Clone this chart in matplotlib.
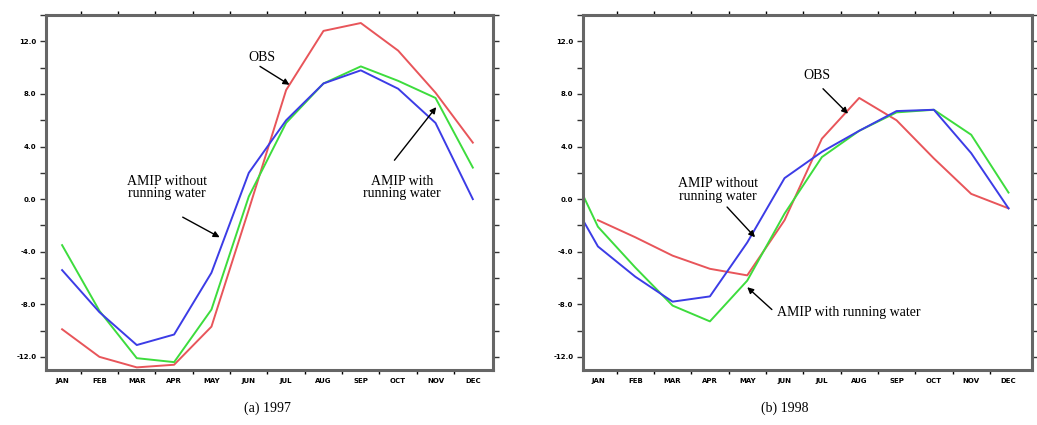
import matplotlib
matplotlib.use("Agg")
import matplotlib.pyplot as plt
from matplotlib.ticker import MultipleLocator

months = ["JAN", "FEB", "MAR", "APR", "MAY", "JUN", "JUL", "AUG", "SEP", "OCT", "NOV", "DEC"]

# 1997
obs_1997 = [-9.9, -12.0, -12.8, -12.6, -9.7, -0.8, 8.3, 12.8, 13.4, 11.3, 8.1, 4.3]
with_rw_1997 = [-3.5, -8.5, -12.1, -12.4, -8.4, 0.2, 5.8, 8.8, 10.1, 9.0, 7.7, 2.4]
without_rw_1997 = [-5.4, -8.6, -11.1, -10.3, -5.6, 2.0, 6.0, 8.8, 9.8, 8.4, 5.8, 0.0]

# 1998 (model runs carry over from the preceding December at the left edge)
obs_1998 = [-1.6, -2.9, -4.3, -5.3, -5.8, -1.6, 4.6, 7.7, 6.0, 3.1, 0.4, -0.7]
with_rw_1998 = [-2.1, -5.2, -8.1, -9.3, -6.2, -1.1, 3.2, 5.2, 6.6, 6.8, 4.9, 0.5]
without_rw_1998 = [-3.6, -5.9, -7.8, -7.4, -3.3, 1.6, 3.6, 5.2, 6.7, 6.8, 3.5, -0.7]
with_rw_1998_lead = 0.3
without_rw_1998_lead = -1.6

RED = "#e8555a"
GREEN = "#3ddc3d"
BLUE = "#3c3ce6"
SERIF = "Liberation Serif"

fig = plt.figure(figsize=(10.37, 4.25), dpi=100)
ax1 = fig.add_axes([0.0444, 0.1294, 0.431, 0.835])
ax2 = fig.add_axes([0.5622, 0.1294, 0.433, 0.835])

x = list(range(12))


def style_axes(ax, xlim):
    ax.set_xlim(*xlim)
    ax.set_ylim(-13.0, 14.0)
    ax.yaxis.set_minor_locator(MultipleLocator(2))
    ax.set_yticks([-12, -8, -4, 0, 4, 8, 12])
    ax.set_yticklabels(["-12.0", "-8.0", "-4.0", "0.0", "4.0", "8.0", "12.0"],
                       fontsize=5, fontweight="bold")
    # month boundaries carry the tick marks, month centres carry the names
    ax.set_xticks([i + 0.5 for i in range(11)])
    ax.set_xticklabels([])
    ax.set_xticks(x, minor=True)
    ax.set_xticklabels(months, minor=True, fontsize=5, fontweight="bold")
    ax.tick_params(axis="x", which="major", direction="out", length=3, width=1,
                   top=True, bottom=True, color="black")
    ax.tick_params(axis="x", which="minor", length=0, pad=6)
    ax.tick_params(axis="y", which="both", direction="out", length=4, width=1,
                   left=True, right=True, color="#333333", pad=3)
    for s in ax.spines.values():
        s.set_color("#666666")
        s.set_linewidth(2.2)


arrow = dict(arrowstyle="-|>", color="black", lw=1.0, mutation_scale=9, shrinkA=0, shrinkB=0)

# (a) 1997
ax1.plot(x, obs_1997, color=RED, lw=1.4)
ax1.plot(x, with_rw_1997, color=GREEN, lw=1.4)
ax1.plot(x, without_rw_1997, color=BLUE, lw=1.4)
style_axes(ax1, (-0.43, 11.54))

ax1.text(5.34, 10.8, "OBS", fontsize=10, family=SERIF, ha="center", va="center")
ax1.annotate("", xy=(6.09, 8.7), xytext=(5.3, 10.1), arrowprops=arrow)
ax1.text(2.80, 0.9, "AMIP without\nrunning water", fontsize=10, family=SERIF,
         ha="center", va="center", linespacing=0.95)
ax1.annotate("", xy=(4.22, -2.9), xytext=(3.23, -1.37), arrowprops=arrow)
ax1.text(9.11, 0.9, "AMIP with\nrunning water", fontsize=10, family=SERIF,
         ha="center", va="center", linespacing=0.95)
ax1.annotate("", xy=(10.02, 7.0), xytext=(8.9, 2.96), arrowprops=arrow)

# (b) 1998
xl2 = (-0.40, 11.63)
ax2.plot(x, obs_1998, color=RED, lw=1.4)
ax2.plot([xl2[0]] + x, [with_rw_1998_lead] + with_rw_1998, color=GREEN, lw=1.4)
ax2.plot([xl2[0]] + x, [without_rw_1998_lead] + without_rw_1998, color=BLUE, lw=1.4)
style_axes(ax2, xl2)

ax2.text(5.87, 9.4, "OBS", fontsize=10, family=SERIF, ha="center", va="center")
ax2.annotate("", xy=(6.70, 6.5), xytext=(6.03, 8.4), arrowprops=arrow)
ax2.text(3.22, 0.7, "AMIP without\nrunning water", fontsize=10, family=SERIF,
         ha="center", va="center", linespacing=0.95)
ax2.annotate("", xy=(4.21, -2.9), xytext=(3.46, -0.6), arrowprops=arrow)
ax2.text(4.80, -8.6, "AMIP with running water", fontsize=10, family=SERIF,
         ha="left", va="center")
ax2.annotate("", xy=(4.0, -6.7), xytext=(4.66, -8.4), arrowprops=arrow)

fig.text(267 / 1037, 1 - 408 / 425, "(a) 1997", fontsize=10, family=SERIF,
         ha="center", va="center")
fig.text(785 / 1037, 1 - 408 / 425, "(b) 1998", fontsize=10, family=SERIF,
         ha="center", va="center")

fig.savefig("out.png", dpi=100)
